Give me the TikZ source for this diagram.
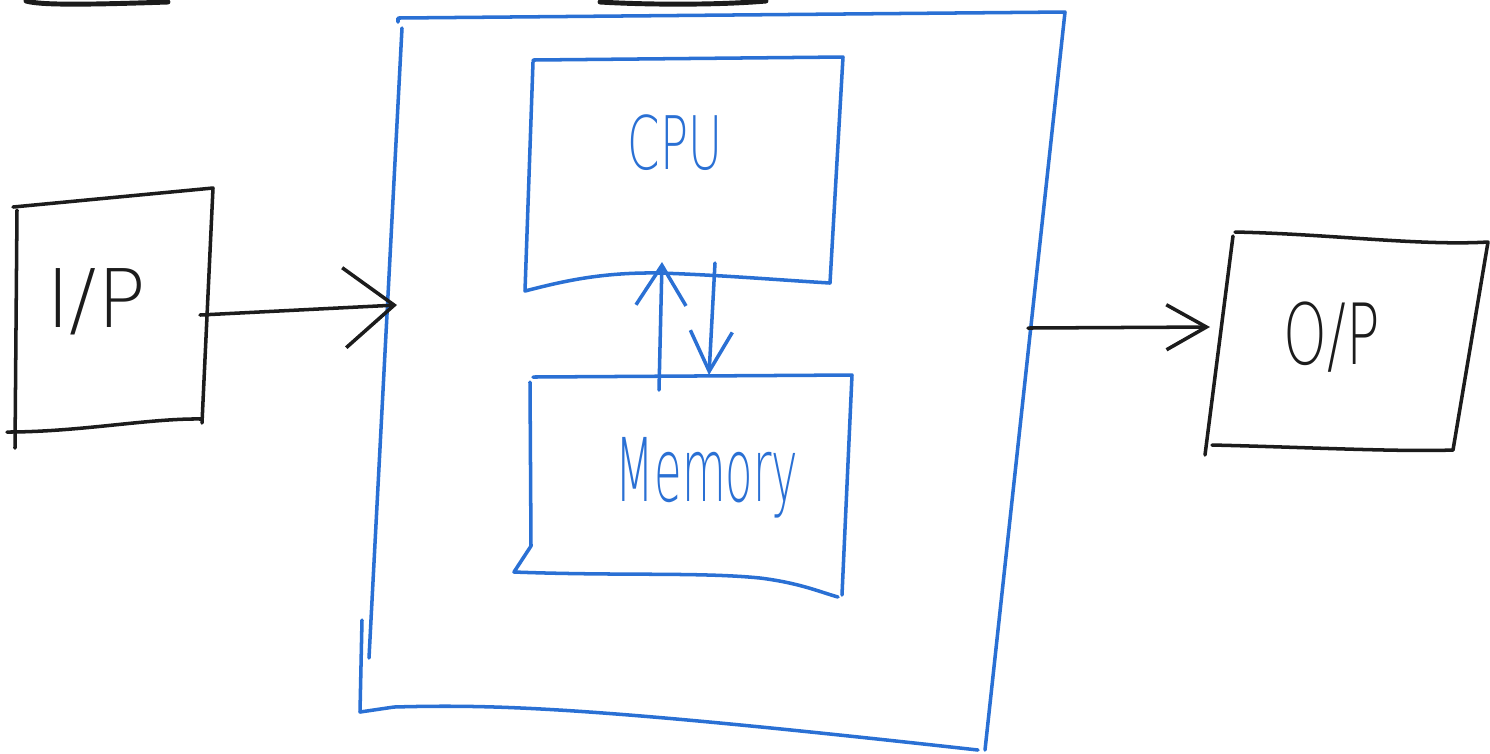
\documentclass[tikz,border=0pt]{standalone}
\usepackage{fontspec}
\usepackage{graphicx}
\newfontfamily\hand{DejaVu Sans ExtraLight}
\usetikzlibrary{arrows.meta}
\definecolor{ink}{RGB}{28,28,28}
\definecolor{pen}{RGB}{42,112,212}

\begin{document}
\begin{tikzpicture}[x=0.01cm,y=-0.01cm,
  line join=round, line cap=round,
  blackline/.style={draw=ink, line width=1pt},
  blueline/.style={draw=pen, line width=1pt},
  handtext/.style={font=\hand, inner sep=0pt, anchor=center},
  barb/.style n args={2}{-{Straight Barb[length=#1, width=#2]}}]

  % page
  \fill[white] (0,0) rectangle (1490,753);
  \useasboundingbox (0,0) rectangle (1490,753);

  % strokes cut by the top border
  \draw[blackline, line width=1.4pt] (26,1) .. controls (40,5) and (80,5) .. (168,2);
  \draw[blackline, line width=1.4pt] (600,2) .. controls (650,5) and (720,5) .. (766,1);

  % input box
  \draw[blackline] (13,207) -- (213,188) -- (202,423);
  \draw[blackline] (17,210) -- (15,448);
  \draw[blackline] (7,432) .. controls (80,432) and (150,418) .. (202,419);
  \node[handtext, text=ink, font=\hand\fontsize{23}{23}\selectfont] (iptext) at (96,302) {I/P};

  % system box
  \draw[blueline] (398,22) -- (398,18) -- (1065,12) -- (985,750);
  \draw[blueline] (402,28) -- (369,658);
  \draw[blueline] (362,620) -- (360,712) -- (394,707)
        .. controls (500,704) and (600,708) .. (978,750);

  % processor box
  \draw[blueline] (533,60) -- (843,57) -- (830,283)
        .. controls (780,280) and (720,275) .. (660,273)
        .. controls (600,272) and (560,282) .. (525,291) -- (533,62);
  \node[handtext, text=pen, font=\hand\fontsize{21}{21}\selectfont] (cputext) at (675,143)
        {\scalebox{0.63}[1]{CPU}};

  % memory box
  \draw[blueline] (533,377) -- (852,375) -- (842,595);
  \draw[blueline] (530,382) -- (531,546) -- (514,572)
        .. controls (620,576) and (700,572) .. (760,578)
        .. controls (800,583) and (820,592) .. (838,597);
  \node[handtext, text=pen, font=\hand\fontsize{25}{25}\selectfont] (memtext) at (707,478)
        {\scalebox{0.51}[1]{Memory}};

  % output box
  \draw[blackline] (1235,232) .. controls (1330,234) and (1420,246) .. (1488,242) -- (1453,450);
  \draw[blackline] (1233,236) -- (1205,455);
  \draw[blackline] (1212,445) .. controls (1300,447) and (1400,452) .. (1453,450);
  \node[handtext, text=ink, font=\hand\fontsize{24}{24}\selectfont] (optext) at (1332,337)
        {\scalebox{0.66}[1]{O/P}};

  % connector end points
  \coordinate (ipR)  at (200,315);
  \coordinate (sysL) at (397,305);
  \coordinate (sysR) at (1028,328);
  \coordinate (opL)  at (1210,327);
  \coordinate (memUp)  at (659,390);
  \coordinate (cpuUp)  at (662,262);
  \coordinate (cpuDn)  at (715,263);
  \coordinate (memDn)  at (709,375);

  % data flow
  \draw[blackline, barb={0.5cm}{0.8cm}] (ipR) -- (sysL);
  \draw[blackline, barb={0.4cm}{0.45cm}] (sysR) -- (opL);
  \draw[blueline, barb={0.4cm}{0.5cm}] (memUp) -- (cpuUp);
  \draw[blueline, barb={0.4cm}{0.42cm}] (cpuDn) -- (memDn);
\end{tikzpicture}
\end{document}
